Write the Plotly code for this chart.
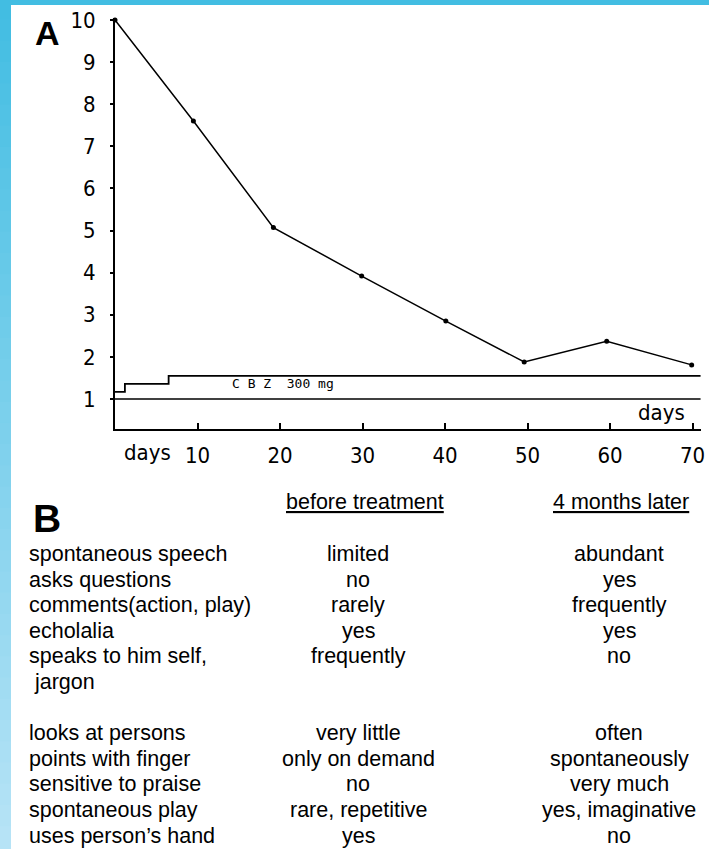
import plotly.graph_objects as go

# ---------------- data ----------------
days = [0, 9.5, 19.2, 29.9, 40.1, 49.6, 59.6, 69.9]
scores = [10, 7.6, 5.07, 3.92, 2.85, 1.88, 2.37, 1.81]

cbz_days = [0, 1.2, 6.5, 71.0]
cbz_level = [1.17, 1.36, 1.55, 1.55]

base_days = [0, 71.0]
base_level = [1, 1]

y_ticks = [1, 2, 3, 4, 5, 6, 7, 8, 9, 10]
x_ticks = [10, 20, 30, 40, 50, 60, 70]
x_ticktext = ["10", "20", "30", "40", "50", "60", "70"]

headers = ["before treatment", "4 months later"]
items = ["spontaneous speech", "asks questions", "comments(action, play)", "echolalia",
         "speaks to him self,", "\u00a0jargon", "",
         "looks at persons", "points with finger", "sensitive to praise",
         "spontaneous play", "uses person\u2019s hand"]
before = ["limited", "no", "rarely", "yes", "frequently", "", "",
          "very little", "only on demand", "no", "rare, repetitive", "yes"]
after = ["abundant", "yes", "frequently", "yes", "no", "", "",
         "often", "spontaneously", "very much", "yes, imaginative", "no"]

# ---------------- layout helpers ----------------
W, H = 709, 849
def px(x):
    return x / W
def py(y):
    return 1 - y / H

x0_px, px_per_day = 115, 8.25
x_max = 71.0
y_top_px, y_bot_px = 18, 429
unit_px = (399 - 20) / 9.0
y_min = 1 - (y_bot_px - 399) / unit_px
y_max = 1 + (399 - y_top_px) / unit_px

axis_font = dict(family="DejaVu Sans Condensed, Liberation Sans Narrow, Arial Narrow", size=22, color="black")
table_font = dict(family="Liberation Sans, Arial, Helvetica", size=21.5, color="black")

fig = go.Figure()
fig.add_trace(go.Scatter(x=base_days, y=base_level, mode="lines",
                         line=dict(color="black", width=1.6), hoverinfo="skip", showlegend=False))
fig.add_trace(go.Scatter(x=cbz_days, y=cbz_level, mode="lines", line_shape="hv",
                         line=dict(color="black", width=1.8), hoverinfo="skip", showlegend=False))
fig.add_trace(go.Scatter(x=days, y=scores, mode="lines+markers",
                         line=dict(color="black", width=1.5),
                         marker=dict(color="black", size=5), cliponaxis=False, showlegend=False))

fig.update_xaxes(range=[0, x_max], domain=[px(x0_px), px(x0_px + x_max * px_per_day)],
                 showline=True, linecolor="black", linewidth=1.8, mirror=False,
                 showgrid=False, zeroline=False, automargin=False,
                 tickmode="array", tickvals=x_ticks, ticktext=x_ticktext,
                 ticks="inside", ticklen=6, tickwidth=1.5, tickcolor="black",
                 ticklabelstandoff=6, tickfont=axis_font)
fig.update_yaxes(range=[y_min, y_max], domain=[py(y_bot_px), py(y_top_px)],
                 showline=True, linecolor="black", linewidth=1.8,
                 showgrid=False, zeroline=False, automargin=False,
                 tickmode="array", tickvals=y_ticks,
                 ticks="outside", ticklen=3, tickwidth=1.5, tickcolor="black",
                 ticklabelstandoff=10, tickfont=axis_font)

ann = []
# panel letters
ann.append(dict(text="<b>A</b>", x=px(33), y=py(33), xref="paper", yref="paper",
                xanchor="left", yanchor="middle", showarrow=False,
                font=dict(family="Liberation Sans, Arial", size=34, color="black")))
ann.append(dict(text="<b>B</b>", x=px(31), y=py(518), xref="paper", yref="paper",
                xanchor="left", yanchor="middle", showarrow=False,
                font=dict(family="Liberation Sans, Arial", size=39, color="black")))
# chart labels
ann.append(dict(text="days", x=px(147), y=py(452), xref="paper", yref="paper",
                xanchor="center", yanchor="middle", showarrow=False, font=axis_font))
ann.append(dict(text="days", x=66.2, y=0.69, xref="x", yref="y",
                xanchor="center", yanchor="middle", showarrow=False, font=axis_font))
ann.append(dict(text="C B Z\u00a0\u00a0300 mg", x=20.4, y=1.38, xref="x", yref="y",
                xanchor="center", yanchor="middle", showarrow=False,
                font=dict(family="DejaVu Sans Mono, Liberation Mono", size=13, color="black")))

# table
col_x = [358, 619]
head_y = 502
for hx, htext in zip(col_x, headers):
    ann.append(dict(text=htext, x=px(hx + 7 if hx == 358 else hx + 2), y=py(head_y),
                    xref="paper", yref="paper", xanchor="center", yanchor="middle",
                    showarrow=False, font=dict(**table_font, lineposition="under")))
row_y0, row_dy = 554, 25.6
for i, (a, b, c) in enumerate(zip(items, before, after)):
    yy = py(row_y0 + i * row_dy)
    if a:
        ann.append(dict(text=a, x=px(27), y=yy, xref="paper", yref="paper",
                        xanchor="left", yanchor="middle", showarrow=False, font=table_font))
    if b:
        ann.append(dict(text=b, x=px(col_x[0]), y=yy, xref="paper", yref="paper",
                        xanchor="center", yanchor="middle", showarrow=False, font=table_font))
    if c:
        ann.append(dict(text=c, x=px(col_x[1]), y=yy, xref="paper", yref="paper",
                        xanchor="center", yanchor="middle", showarrow=False, font=table_font))

# blue frame (decoration)
shapes = []
n = 40
def lerp(c1, c2, t):
    return "#%02x%02x%02x" % tuple(int(round(a + (b - a) * t)) for a, b in zip(c1, c2))
top_c = (0x42, 0xBD, 0xE2)
bot_c = (0xB6, 0xE3, 0xF6)
for k in range(n):
    t = k / (n - 1)
    shapes.append(dict(type="rect", xref="paper", yref="paper", layer="above",
                       x0=0, x1=px(11), y0=1 - (k + 1) / n, y1=1 - k / n + 0.002,
                       fillcolor=lerp(top_c, bot_c, t), line=dict(width=0)))
shapes.append(dict(type="rect", xref="paper", yref="paper", layer="above",
                   x0=0, x1=1, y0=py(5), y1=1, fillcolor="#42BDE2", line=dict(width=0)))

fig.update_layout(width=W, height=H, margin=dict(l=0, r=0, t=0, b=0, pad=0, autoexpand=False),
                  paper_bgcolor="white", plot_bgcolor="white",
                  annotations=ann, shapes=shapes, showlegend=False)

post = ("document.documentElement.style.margin='0';document.body.style.margin='0';"
        "document.body.style.padding='0';document.body.style.overflow='hidden';"
        "var d=document.getElementById('{plot_id}');d.style.position='absolute';"
        "d.style.top='0px';d.style.left='0px';")
fig.write_html("out.html", post_script=post, config={"displayModeBar": False})
